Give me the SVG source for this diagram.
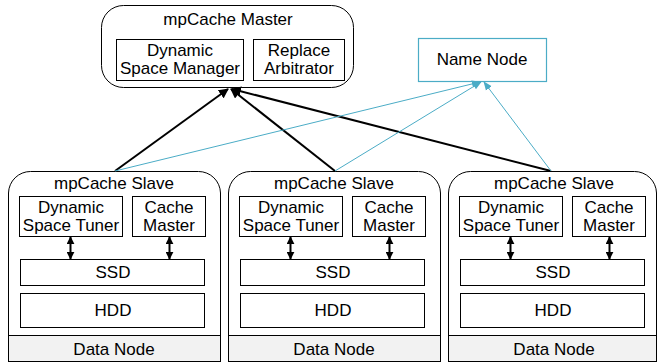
<svg xmlns="http://www.w3.org/2000/svg" width="658" height="364" viewBox="0 0 658 364">
<defs>
<marker id="ab" viewBox="0 0 10 10" refX="9" refY="5" markerWidth="10" markerHeight="10" markerUnits="userSpaceOnUse" orient="auto-start-reverse"><path d="M0,0 L10,5 L0,10 z" fill="#000"/></marker>
<marker id="as" viewBox="0 0 10 10" refX="9" refY="5" markerWidth="8" markerHeight="8" markerUnits="userSpaceOnUse" orient="auto-start-reverse"><path d="M0,0 L10,5 L0,10 z" fill="#000"/></marker>
<marker id="at" viewBox="0 0 10 10" refX="9" refY="5" markerWidth="9" markerHeight="9" markerUnits="userSpaceOnUse" orient="auto"><path d="M0,1 L10,5 L0,9 z" fill="#4bacc6"/></marker>
</defs>
<style>
text{font-family:"Liberation Sans",Arial,sans-serif;font-size:17px;fill:#000;text-anchor:middle}
.b{fill:#fff;stroke:#000;stroke-width:1}
.g{fill:#f2f2f2;stroke:#000;stroke-width:1}
.blk{stroke:#000;stroke-width:2;fill:none;marker-end:url(#ab)}
.tl{stroke:#4bacc6;stroke-width:1;fill:none;marker-end:url(#at)}
.dbl{stroke:#000;stroke-width:2;fill:none;marker-start:url(#as);marker-end:url(#as)}
</style>
<g id="master">
<rect x="101.5" y="5.5" width="252" height="82" rx="22" class="b"/>
<text x="228" y="25">mpCache Master</text>
<rect x="116.5" y="39.5" width="127" height="41" class="b"/>
<text x="180" y="56">Dynamic</text>
<text x="180" y="74">Space Manager</text>
<rect x="253.5" y="39.5" width="91" height="41" class="b"/>
<text x="299" y="56">Replace</text>
<text x="299" y="74">Arbitrator</text>
</g>
<g id="namenode">
<rect x="418.5" y="38.5" width="128" height="43" fill="#fff" stroke="#4bacc6" stroke-width="1.2"/>
<text x="482" y="65">Name Node</text>
</g>
<g id="slave1">
<path d="M8.5,361.5 V193 A22,22 0 0 1 30.5,171.5 H198.5 A22,22 0 0 1 220.5,193 V361.5 Z" class="b"/>
<rect x="8.5" y="335.5" width="212" height="26" class="g"/>
<text x="114" y="355">Data Node</text>
<text x="114" y="189">mpCache Slave</text>
<rect x="19.5" y="196.5" width="103" height="40" class="b"/>
<text x="71" y="213">Dynamic</text>
<text x="71" y="231">Space Tuner</text>
<rect x="132.5" y="196.5" width="73" height="40" class="b"/>
<text x="169" y="213">Cache</text>
<text x="169" y="231">Master</text>
<rect x="20.5" y="259.5" width="184" height="26" class="b"/>
<text x="113" y="278">SSD</text>
<rect x="20.5" y="293.5" width="184" height="34" class="b"/>
<text x="113" y="316">HDD</text>
<line x1="70.5" y1="237" x2="70.5" y2="259" class="dbl"/>
<line x1="169.5" y1="237" x2="169.5" y2="259" class="dbl"/>
</g>
<g id="slave2" transform="translate(220,0)">
<path d="M8.5,361.5 V193 A22,22 0 0 1 30.5,171.5 H198.5 A22,22 0 0 1 220.5,193 V361.5 Z" class="b"/>
<rect x="8.5" y="335.5" width="212" height="26" class="g"/>
<text x="114" y="355">Data Node</text>
<text x="114" y="189">mpCache Slave</text>
<rect x="19.5" y="196.5" width="103" height="40" class="b"/>
<text x="71" y="213">Dynamic</text>
<text x="71" y="231">Space Tuner</text>
<rect x="132.5" y="196.5" width="73" height="40" class="b"/>
<text x="169" y="213">Cache</text>
<text x="169" y="231">Master</text>
<rect x="20.5" y="259.5" width="184" height="26" class="b"/>
<text x="113" y="278">SSD</text>
<rect x="20.5" y="293.5" width="184" height="34" class="b"/>
<text x="113" y="316">HDD</text>
<line x1="70.5" y1="237" x2="70.5" y2="259" class="dbl"/>
<line x1="169.5" y1="237" x2="169.5" y2="259" class="dbl"/>
</g>
<g id="slave3" transform="translate(440,0)">
<path d="M8.5,361.5 V193 A22,22 0 0 1 30.5,171.5 H194.5 A22,22 0 0 1 216.5,193 V361.5 Z" class="b"/>
<rect x="8.5" y="335.5" width="208" height="26" class="g"/>
<text x="114" y="355">Data Node</text>
<text x="114" y="189">mpCache Slave</text>
<rect x="19.5" y="196.5" width="103" height="40" class="b"/>
<text x="71" y="213">Dynamic</text>
<text x="71" y="231">Space Tuner</text>
<rect x="132.5" y="196.5" width="73" height="40" class="b"/>
<text x="169" y="213">Cache</text>
<text x="169" y="231">Master</text>
<rect x="20.5" y="259.5" width="184" height="26" class="b"/>
<text x="113" y="278">SSD</text>
<rect x="20.5" y="293.5" width="184" height="34" class="b"/>
<text x="113" y="316">HDD</text>
<line x1="70.5" y1="237" x2="70.5" y2="259" class="dbl"/>
<line x1="169.5" y1="237" x2="169.5" y2="259" class="dbl"/>
</g>
<g id="connectors">
<line x1="115" y1="171" x2="228" y2="89" class="blk"/>
<line x1="335" y1="171" x2="231" y2="89" class="blk"/>
<line x1="551" y1="171" x2="232" y2="89" class="blk"/>
<line x1="115" y1="171" x2="480" y2="82" class="tl"/>
<line x1="335" y1="171" x2="481" y2="82" class="tl"/>
<line x1="551" y1="171" x2="484" y2="82" class="tl"/>
</g>
</svg>
